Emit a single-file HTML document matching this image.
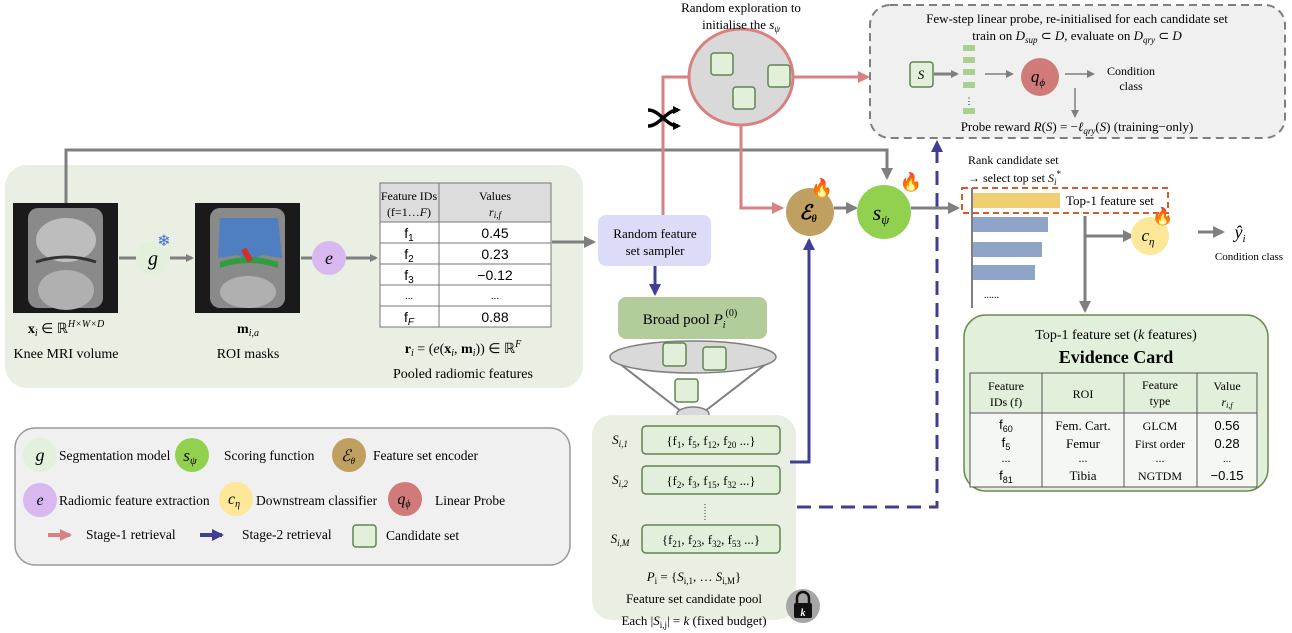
<!DOCTYPE html>
<html><head><meta charset="utf-8"><style>
body{margin:0;background:#fff;}
svg{display:block;font-family:"Liberation Serif",serif;}
.it{font-style:italic;}
</style></head><body>
<svg width="1292" height="633" viewBox="0 0 1292 633" xmlns="http://www.w3.org/2000/svg">
<defs>
<marker id="ag" markerWidth="8" markerHeight="8" refX="6" refY="4" orient="auto" markerUnits="userSpaceOnUse"><path d="M0,0 L8,4 L0,8 z" fill="#7f7f7f"/></marker>
<marker id="ag2" markerWidth="12" markerHeight="12" refX="10" refY="6" orient="auto" markerUnits="userSpaceOnUse"><path d="M0,0 L12,6 L0,12 z" fill="#7f7f7f"/></marker>
<marker id="ap" markerWidth="12" markerHeight="12" refX="10" refY="6" orient="auto" markerUnits="userSpaceOnUse"><path d="M0,0 L12,6 L0,12 z" fill="#d98080"/></marker>
<marker id="ab" markerWidth="12" markerHeight="12" refX="10" refY="6" orient="auto" markerUnits="userSpaceOnUse"><path d="M0,0 L12,6 L0,12 z" fill="#403f94"/></marker>
<marker id="ak" markerWidth="8" markerHeight="8" refX="5" refY="4" orient="auto" markerUnits="userSpaceOnUse"><path d="M0,0 L8,4 L0,8 z" fill="#000"/></marker>
</defs>

<!-- left green box -->
<rect x="5" y="165" width="578" height="223" rx="22" fill="#e9efe2"/>
<!-- MRI images -->
<rect x="13" y="203" width="105" height="110" fill="#1a1a1a"/>
<rect x="28" y="208" width="75" height="100" rx="10" fill="#8a8a8a"/>
<ellipse cx="66" cy="240" rx="30" ry="22" fill="#bdbdbd"/>
<ellipse cx="66" cy="290" rx="28" ry="20" fill="#b0b0b0"/>
<path d="M36,262 Q66,252 96,262" stroke="#333" stroke-width="3" fill="none"/>
<rect x="195" y="203" width="105" height="110" fill="#1a1a1a"/>
<rect x="210" y="208" width="75" height="100" rx="10" fill="#8a8a8a"/>
<path d="M220,218 L278,218 L282,258 L262,255 L250,262 L238,255 L218,258 z" fill="#4f7fc0"/>
<path d="M220,262 Q248,252 278,262 L278,268 Q248,258 220,268 z" fill="#2e9e3e"/>
<rect x="244" y="248" width="6" height="14" fill="#d03030" transform="rotate(-30 247 255)"/>
<ellipse cx="248" cy="292" rx="28" ry="16" fill="#b0b0b0"/>

<!-- g and e -->
<line x1="119" y1="258" x2="136" y2="258" stroke="#7f7f7f" stroke-width="3"/>
<circle cx="153" cy="258" r="17" fill="#e2f0dc"/>
<text x="153" y="265" font-size="20" text-anchor="middle" class="it">g</text>
<text x="164" y="246" font-size="16" fill="#4070d0" text-anchor="middle">❄</text>
<line x1="170" y1="258" x2="192" y2="258" stroke="#7f7f7f" stroke-width="3" marker-end="url(#ag)"/>
<line x1="301" y1="258" x2="312" y2="258" stroke="#7f7f7f" stroke-width="3"/>
<circle cx="329" cy="258" r="17" fill="#d9b8f0"/>
<text x="329" y="264" font-size="18" text-anchor="middle" class="it">e</text>
<line x1="346" y1="258" x2="376" y2="258" stroke="#7f7f7f" stroke-width="3" marker-end="url(#ag)"/>

<!-- feature table -->
<g font-size="13">
<rect x="380" y="183" width="171" height="144" fill="#fff" stroke="#777"/>
<rect x="380" y="183" width="171" height="39" fill="#dcdcdc" stroke="#777"/>
<line x1="439" y1="183" x2="439" y2="327" stroke="#777"/>
<line x1="380" y1="243" x2="551" y2="243" stroke="#777"/><line x1="380" y1="264" x2="551" y2="264" stroke="#777"/>
<line x1="380" y1="285" x2="551" y2="285" stroke="#777"/><line x1="380" y1="306" x2="551" y2="306" stroke="#777"/>
<text x="409" y="200" text-anchor="middle" font-size="12">Feature IDs</text>
<text x="409" y="216" text-anchor="middle" font-size="12">(f=1…<tspan class="it">F</tspan>)</text>
<text x="495" y="200" text-anchor="middle" font-size="12">Values</text>
<text x="495" y="216" text-anchor="middle" font-size="12" class="it">r<tspan font-size="9" dy="2">i,f</tspan></text>
<g font-family="Liberation Sans,sans-serif" font-size="14" text-anchor="middle">
<text x="409" y="238">f<tspan font-size="10" dy="3">1</tspan></text><text x="495" y="238">0.45</text>
<text x="409" y="259">f<tspan font-size="10" dy="3">2</tspan></text><text x="495" y="259">0.23</text>
<text x="409" y="280">f<tspan font-size="10" dy="3">3</tspan></text><text x="495" y="280">−0.12</text>
<text x="409" y="299" font-size="10">...</text><text x="495" y="299" font-size="10">...</text>
<text x="409" y="322">f<tspan font-size="10" dy="3" class="it">F</tspan></text><text x="495" y="322">0.88</text>
</g></g>
<g font-size="14" text-anchor="middle">
<text x="66" y="333"><tspan font-weight="bold">x</tspan><tspan class="it" font-size="10" dy="3">i</tspan><tspan dy="-3"> ∈ ℝ</tspan><tspan class="it" font-size="10" dy="-6">H×W×D</tspan></text>
<text x="66" y="358">Knee MRI volume</text>
<text x="248" y="333" font-weight="bold">m<tspan class="it" font-weight="normal" font-size="10" dy="3">i,a</tspan></text>
<text x="248" y="358">ROI masks</text>
<text x="463" y="353"><tspan font-weight="bold">r</tspan><tspan class="it" font-size="10" dy="3">i</tspan><tspan dy="-3"> = (</tspan><tspan class="it">e</tspan>(<tspan font-weight="bold">x</tspan><tspan class="it" font-size="10" dy="3">i</tspan><tspan dy="-3">, </tspan><tspan font-weight="bold">m</tspan><tspan class="it" font-size="10" dy="3">i</tspan><tspan dy="-3">)) ∈ ℝ</tspan><tspan class="it" font-size="10" dy="-6">F</tspan></text>
<text x="463" y="378">Pooled radiomic features</text>
</g>

<!-- top gray line -->
<polyline points="66,203 66,150 887,150 887,178" fill="none" stroke="#7f7f7f" stroke-width="3" marker-end="url(#ag2)"/>
<line x1="552" y1="242" x2="594" y2="242" stroke="#7f7f7f" stroke-width="3" marker-end="url(#ag2)"/>

<!-- sampler -->
<rect x="598" y="215" width="113" height="51" rx="8" fill="#dcdcf8"/>
<text x="655" y="238" font-size="13" text-anchor="middle">Random feature</text>
<text x="655" y="255" font-size="13" text-anchor="middle">set sampler</text>
<line x1="655" y1="266" x2="655" y2="294" stroke="#403f94" stroke-width="3" marker-end="url(#ab)"/>

<!-- broad pool -->
<rect x="618" y="297" width="149" height="42" rx="8" fill="#b3cc9b"/>
<text x="690" y="324" font-size="15" text-anchor="middle">Broad pool <tspan class="it">P</tspan><tspan class="it" font-size="10" dy="4">i</tspan><tspan font-size="10" dy="-12">(0)</tspan></text>
<path d="M611,357 L686,415 M775,357 L700,415" stroke="#7f7f7f" stroke-width="2"/>
<ellipse cx="693" cy="357" rx="83" ry="16" fill="#d9d9d9" stroke="#7f7f7f" stroke-width="1.5"/>
<ellipse cx="693" cy="414" rx="16" ry="7" fill="#d9d9d9" stroke="#7f7f7f" stroke-width="1.5"/>
<rect x="663" y="343" width="23" height="23" rx="3" fill="#e2efda" stroke="#5f8550" stroke-width="1.5"/>
<rect x="703" y="347" width="23" height="23" rx="3" fill="#e2efda" stroke="#5f8550" stroke-width="1.5"/>
<rect x="675" y="379" width="23" height="23" rx="3" fill="#e2efda" stroke="#5f8550" stroke-width="1.5"/>

<!-- candidate pool -->
<rect x="592" y="415" width="204" height="205" rx="20" fill="#e9efe2"/>
<g font-size="13">
<text x="620" y="444" text-anchor="middle" class="it">S<tspan font-size="9" dy="3">i,1</tspan></text>
<rect x="642" y="426" width="138" height="28" rx="4" fill="#e2efda" stroke="#5f8550" stroke-width="1.5"/>
<text x="711" y="445" text-anchor="middle">{f<tspan font-size="9" dy="3">1</tspan><tspan dy="-3">, f</tspan><tspan font-size="9" dy="3">5</tspan><tspan dy="-3">, f</tspan><tspan font-size="9" dy="3">12</tspan><tspan dy="-3">, f</tspan><tspan font-size="9" dy="3">20</tspan><tspan dy="-3"> ...}</tspan></text>
<text x="620" y="484" text-anchor="middle" class="it">S<tspan font-size="9" dy="3">i,2</tspan></text>
<rect x="642" y="466" width="138" height="28" rx="4" fill="#e2efda" stroke="#5f8550" stroke-width="1.5"/>
<text x="711" y="485" text-anchor="middle">{f<tspan font-size="9" dy="3">2</tspan><tspan dy="-3">, f</tspan><tspan font-size="9" dy="3">3</tspan><tspan dy="-3">, f</tspan><tspan font-size="9" dy="3">15</tspan><tspan dy="-3">, f</tspan><tspan font-size="9" dy="3">32</tspan><tspan dy="-3"> ...}</tspan></text>
<line x1="705" y1="504" x2="705" y2="520" stroke="#333" stroke-dasharray="1,2"/>
<text x="620" y="543" text-anchor="middle" class="it">S<tspan font-size="9" dy="3">i,M</tspan></text>
<rect x="642" y="525" width="138" height="28" rx="4" fill="#e2efda" stroke="#5f8550" stroke-width="1.5"/>
<text x="711" y="544" text-anchor="middle">{f<tspan font-size="9" dy="3">21</tspan><tspan dy="-3">, f</tspan><tspan font-size="9" dy="3">23</tspan><tspan dy="-3">, f</tspan><tspan font-size="9" dy="3">32</tspan><tspan dy="-3">, f</tspan><tspan font-size="9" dy="3">53</tspan><tspan dy="-3"> ...}</tspan></text>
<text x="694" y="581" text-anchor="middle"><tspan class="it">P</tspan><tspan font-size="9" dy="3">i</tspan><tspan dy="-3">  = {</tspan><tspan class="it">S</tspan><tspan font-size="9" dy="3">i,1</tspan><tspan dy="-3">, … </tspan><tspan class="it">S</tspan><tspan font-size="9" dy="3">i,M</tspan><tspan dy="-3">}</tspan></text>
<text x="694" y="603" text-anchor="middle">Feature set candidate pool</text>
<text x="694" y="625" text-anchor="middle">Each |<tspan class="it">S</tspan><tspan font-size="9" dy="3">i,j</tspan><tspan dy="-3">| = </tspan><tspan class="it">k</tspan> (fixed budget)</text>
</g>
<circle cx="803" cy="606" r="17" fill="#a6a6a6"/>
<rect x="794" y="603" width="18" height="15" rx="2" fill="#111"/>
<path d="M797,603 v-5 a6,6 0 0 1 12,0 v5" stroke="#111" stroke-width="2.5" fill="none"/>
<text x="803" y="616" font-size="10" fill="#fff" text-anchor="middle" class="it" font-weight="bold">k</text>

<!-- blue lines -->
<polyline points="790,462 809,462 809,240" fill="none" stroke="#403f94" stroke-width="3" marker-end="url(#ab)"/>
<polyline points="797,507 937,507 937,142" fill="none" stroke="#403f94" stroke-width="3" stroke-dasharray="14,8" marker-end="url(#ab)"/>

<!-- pink -->
<polyline points="688,77 663,77 663,215" fill="none" stroke="#d98080" stroke-width="3"/>
<polyline points="741,125 741,208 782,208" fill="none" stroke="#d98080" stroke-width="3" marker-end="url(#ap)"/>
<line x1="793" y1="77" x2="868" y2="77" stroke="#d98080" stroke-width="3" marker-end="url(#ap)"/>
<ellipse cx="741" cy="77" rx="52" ry="48" fill="#d9d9d9" stroke="#d98080" stroke-width="3"/>
<rect x="711" y="53" width="22" height="22" rx="3" fill="#e2efda" stroke="#5f8550" stroke-width="1.5"/>
<rect x="768" y="65" width="22" height="22" rx="3" fill="#e2efda" stroke="#5f8550" stroke-width="1.5"/>
<rect x="733" y="87" width="22" height="22" rx="3" fill="#e2efda" stroke="#5f8550" stroke-width="1.5"/>
<text x="741" y="12" font-size="13" text-anchor="middle">Random exploration to</text>
<text x="741" y="29" font-size="13" text-anchor="middle">initialise the <tspan class="it">s</tspan><tspan class="it" font-size="9" dy="3">ψ</tspan></text>
<!-- shuffle icon -->
<path d="M648,110 C660,110 666,126 678,126" stroke="#000" stroke-width="3.5" fill="none" marker-end="url(#ak)"/>
<path d="M648,126 C660,126 666,110 678,110" stroke="#000" stroke-width="3.5" fill="none" marker-end="url(#ak)"/>

<!-- E and s -->
<circle cx="810" cy="212" r="24" fill="#c0a060"/>
<text x="808" y="219" font-size="20" text-anchor="middle" class="it" font-weight="bold">ℰ<tspan font-size="10" dy="3">θ</tspan></text>
<text x="822" y="194" font-size="18" fill="#f08030" text-anchor="middle">🔥</text>
<line x1="834" y1="208" x2="856" y2="208" stroke="#7f7f7f" stroke-width="3" marker-end="url(#ag2)"/>
<circle cx="884" cy="212" r="27" fill="#92d050"/>
<text x="881" y="220" font-size="22" text-anchor="middle" class="it">s<tspan font-size="13" dy="4">ψ</tspan></text>
<text x="911" y="188" font-size="18" fill="#f08030" text-anchor="middle">🔥</text>
<line x1="911" y1="208" x2="958" y2="208" stroke="#7f7f7f" stroke-width="3" marker-end="url(#ag2)"/>

<!-- probe box -->
<rect x="870" y="5" width="415" height="133" rx="20" fill="#f0f0f0" stroke="#7f7f7f" stroke-width="2" stroke-dasharray="8,5"/>
<text x="1077" y="23" font-size="13" text-anchor="middle">Few-step linear probe, re-initialised for each candidate set</text>
<text x="1077" y="40" font-size="13" text-anchor="middle">train on <tspan class="it">D</tspan><tspan class="it" font-size="9" dy="3">sup</tspan><tspan dy="-3"> ⊂ </tspan><tspan class="it">D</tspan>, evaluate on <tspan class="it">D</tspan><tspan class="it" font-size="9" dy="3">qry</tspan><tspan dy="-3"> ⊂ </tspan><tspan class="it">D</tspan></text>
<rect x="910" y="62" width="23" height="25" rx="3" fill="#e2efda" stroke="#5f8550" stroke-width="1.5"/>
<text x="921" y="79" font-size="13" text-anchor="middle" class="it">S</text>
<line x1="934" y1="74" x2="957" y2="74" stroke="#7f7f7f" stroke-width="3" marker-end="url(#ag)"/>
<g fill="#a9d08e"><rect x="963" y="45" width="12" height="6"/><rect x="963" y="57" width="12" height="6"/><rect x="963" y="69" width="12" height="6"/><rect x="963" y="82" width="12" height="6"/><rect x="963" y="108" width="12" height="6"/></g>
<text x="969" y="104" font-size="9" text-anchor="middle">⋮</text>
<line x1="985" y1="74" x2="1012" y2="74" stroke="#7f7f7f" stroke-width="1.5" marker-end="url(#ag)"/>
<circle cx="1040" cy="77" r="19" fill="#d07a7a"/>
<text x="1038" y="82" font-size="17" text-anchor="middle" class="it">q<tspan font-size="11" dy="4">ϕ</tspan></text>
<line x1="1065" y1="74" x2="1093" y2="74" stroke="#7f7f7f" stroke-width="1.5" marker-end="url(#ag)"/>
<line x1="1075" y1="88" x2="1075" y2="116" stroke="#7f7f7f" stroke-width="1.5" marker-end="url(#ag)"/>
<text x="1131" y="75" font-size="12" text-anchor="middle">Condition</text>
<text x="1131" y="90" font-size="12" text-anchor="middle">class</text>
<text x="1077" y="131" font-size="13" text-anchor="middle">Probe reward <tspan class="it">R</tspan>(<tspan class="it">S</tspan>) = −<tspan class="it">ℓ</tspan><tspan class="it" font-size="9" dy="3">qry</tspan><tspan dy="-3">(</tspan><tspan class="it">S</tspan>) (training−only)</text>

<!-- ranking -->
<text x="968" y="164" font-size="12">Rank candidate set</text>
<text x="968" y="182" font-size="12">→ select top set <tspan class="it">S</tspan><tspan class="it" font-size="9" dy="3">i</tspan><tspan font-size="9" dy="-8">*</tspan></text>
<line x1="972" y1="188" x2="972" y2="308" stroke="#7f7f7f" stroke-width="2"/>
<rect x="973" y="193" width="87" height="15" fill="#f0cf72"/>
<rect x="962" y="188" width="206" height="25" fill="none" stroke="#d0602a" stroke-width="2" stroke-dasharray="6,4"/>
<text x="1066" y="205" font-size="13">Top-1 feature set</text>
<rect x="973" y="217" width="75" height="15" fill="#8fa5c8"/>
<rect x="973" y="242" width="69" height="15" fill="#8fa5c8"/>
<rect x="973" y="265" width="62" height="15" fill="#8fa5c8"/>
<text x="984" y="298" font-size="10">......</text>
<polyline points="1085,216 1085,236 1133,236" fill="none" stroke="#7f7f7f" stroke-width="3" marker-end="url(#ag2)"/>
<line x1="1085" y1="236" x2="1085" y2="311" stroke="#7f7f7f" stroke-width="3" marker-end="url(#ag2)"/>
<circle cx="1150" cy="236" r="19" fill="#fde799"/>
<text x="1148" y="241" font-size="17" text-anchor="middle" class="it">c<tspan font-size="11" dy="4">η</tspan></text>
<text x="1163" y="222" font-size="17" fill="#f08030" text-anchor="middle">🔥</text>
<line x1="1198" y1="232" x2="1223" y2="232" stroke="#7f7f7f" stroke-width="3" marker-end="url(#ag2)"/>
<text x="1240" y="238" font-size="18" text-anchor="middle" class="it">ŷ<tspan font-size="11" dy="4">i</tspan></text>
<text x="1249" y="260" font-size="11" text-anchor="middle">Condition class</text>

<!-- evidence card -->
<rect x="964" y="315" width="304" height="176" rx="22" fill="#e2efda" stroke="#6a8a50" stroke-width="1.5"/>
<text x="1116" y="339" font-size="14" text-anchor="middle">Top-1 feature set (<tspan class="it">k</tspan> features)</text>
<text x="1116" y="363" font-size="18" font-weight="bold" text-anchor="middle">Evidence Card</text>
<g font-size="12" text-anchor="middle">
<rect x="970" y="373" width="287" height="114" fill="#f5f8f2" stroke="#555"/>
<rect x="970" y="373" width="287" height="40" fill="#e2efda" stroke="#555"/>
<line x1="1042" y1="373" x2="1042" y2="487" stroke="#555"/><line x1="1124" y1="373" x2="1124" y2="487" stroke="#555"/><line x1="1197" y1="373" x2="1197" y2="487" stroke="#555"/>
<text x="1006" y="390">Feature</text><text x="1006" y="406">IDs (f)</text>
<text x="1083" y="398">ROI</text>
<text x="1160" y="389">Feature</text><text x="1160" y="405">type</text>
<text x="1227" y="390">Value</text><text x="1227" y="406" class="it">r<tspan font-size="8" dy="2">i,f</tspan></text>
<text x="1006" y="429" font-family="Liberation Sans,sans-serif" font-size="13">f<tspan font-size="9" dy="3">60</tspan></text>
<text x="1006" y="447" font-family="Liberation Sans,sans-serif" font-size="13">f<tspan font-size="9" dy="3">5</tspan></text>
<text x="1006" y="462">...</text>
<text x="1006" y="480" font-family="Liberation Sans,sans-serif" font-size="13">f<tspan font-size="9" dy="3">81</tspan></text>
<text x="1083" y="430" font-size="13">Fem. Cart.</text><text x="1083" y="448" font-size="13">Femur</text><text x="1083" y="462">...</text><text x="1083" y="480" font-size="13">Tibia</text>
<text x="1160" y="430">GLCM</text><text x="1160" y="448">First order</text><text x="1160" y="462">...</text><text x="1160" y="480">NGTDM</text>
<g font-family="Liberation Sans,sans-serif" font-size="13"><text x="1227" y="430">0.56</text><text x="1227" y="448">0.28</text><text x="1227" y="462" font-size="10">...</text><text x="1227" y="480">−0.15</text></g>
</g>

<!-- legend -->
<rect x="15" y="428" width="555" height="137" rx="20" fill="#f0f0f0" stroke="#999" stroke-width="1.5"/>
<g font-size="13.5">
<circle cx="40" cy="455" r="17" fill="#e2f0dc"/><text x="40" y="461" font-size="18" text-anchor="middle" class="it">g</text>
<text x="59" y="460">Segmentation model</text>
<circle cx="192" cy="455" r="17" fill="#92d050"/><text x="190" y="461" font-size="17" text-anchor="middle" class="it">s<tspan font-size="11" dy="3">ψ</tspan></text>
<text x="224" y="460">Scoring function</text>
<circle cx="349" cy="455" r="17" fill="#c0a060"/><text x="348" y="461" font-size="16" text-anchor="middle" class="it">ℰ<tspan font-size="9" dy="3">θ</tspan></text>
<text x="373" y="460">Feature set encoder</text>
<circle cx="40" cy="500" r="17" fill="#d9b8f0"/><text x="40" y="505" font-size="16" text-anchor="middle" class="it">e</text>
<text x="59" y="505">Radiomic feature extraction</text>
<circle cx="236" cy="499" r="17" fill="#fde799"/><text x="234" y="504" font-size="16" text-anchor="middle" class="it">c<tspan font-size="10" dy="3">η</tspan></text>
<text x="256" y="505">Downstream classifier</text>
<circle cx="405" cy="499" r="17" fill="#d07a7a"/><text x="404" y="504" font-size="16" text-anchor="middle" class="it">q<tspan font-size="10" dy="3">ϕ</tspan></text>
<text x="435" y="505">Linear Probe</text>
<line x1="48" y1="535" x2="70" y2="535" stroke="#d98080" stroke-width="4" marker-end="url(#ap)"/>
<text x="86" y="539">Stage-1 retrieval</text>
<line x1="200" y1="535" x2="222" y2="535" stroke="#403f94" stroke-width="4" marker-end="url(#ab)"/>
<text x="242" y="539">Stage-2 retrieval</text>
<rect x="353" y="525" width="23" height="22" rx="3" fill="#e2efda" stroke="#5f8550" stroke-width="1.5"/>
<text x="386" y="540">Candidate set</text>
</g>
</svg>
</body></html>
